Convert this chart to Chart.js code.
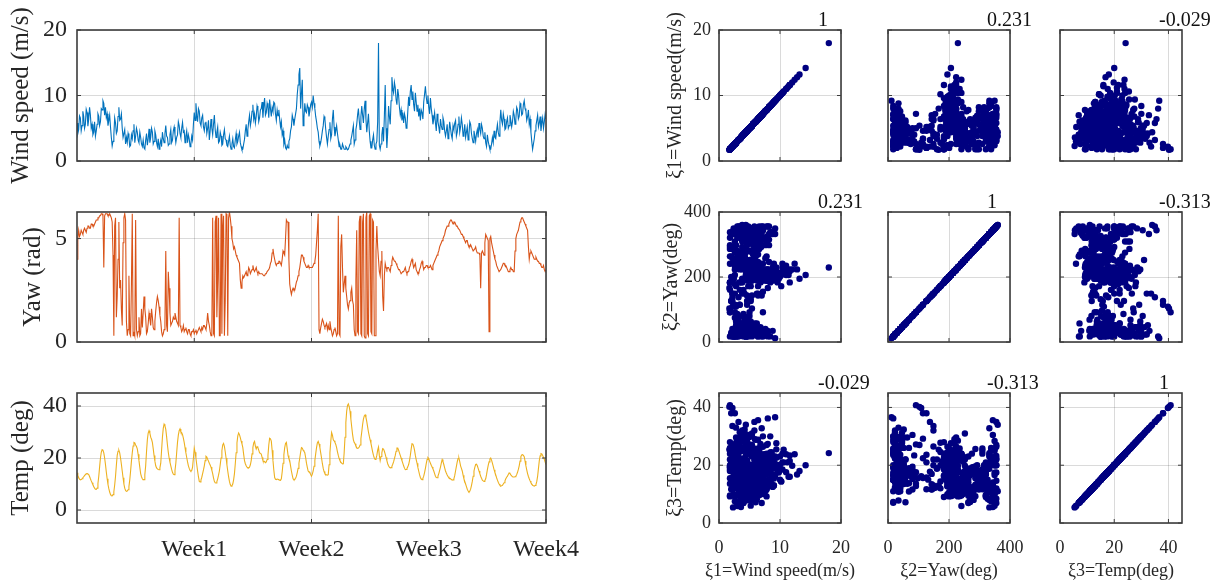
<!DOCTYPE html>
<html>
<head>
<meta charset="utf-8">
<script src="https://cdn.jsdelivr.net/npm/chart.js@4.4.0/dist/chart.umd.min.js"></script>
<style>
  html, body { margin: 0; padding: 0; background: #fff; }
  #page { position: relative; width: 1221px; height: 584px; overflow: hidden; }
  #page canvas { position: absolute; }
</style>
</head>
<body>
<div id="page"></div>
<script>
// Series, 20 samples per day over 4 weeks, one row per day
const windSpeed = [
  5.8, 4.2, 4.8, 6.9, 6.6, 4.6, 5.4, 7.6, 6.8, 5.0, 5.6, 7.9, 7.4, 5.3, 6.4, 8.2, 7.0, 5.0, 5.6, 4.0,
  4.4, 6.0, 3.8, 4.6, 5.6, 7.2, 6.8, 5.4, 6.0, 8.0, 7.8, 9.2, 8.8, 7.0, 8.2, 6.6, 7.2, 5.4, 6.2, 7.0,
  5.2, 3.6, 2.3, 3.0, 4.0, 6.6, 5.8, 4.2, 4.6, 6.8, 8.2, 6.2, 6.4, 7.2, 5.0, 3.6, 3.6, 4.8, 2.6, 3.6,
  2.8, 4.2, 3.6, 2.2, 2.4, 4.0, 3.4, 4.6, 5.6, 2.8, 3.8, 5.0, 4.4, 3.2, 2.8, 4.4, 3.6, 2.6, 2.2, 3.2,
  2.0, 1.8, 3.2, 4.2, 2.4, 3.4, 4.9, 2.8, 3.6, 5.0, 4.4, 2.6, 3.0, 4.6, 4.0, 2.8, 2.2, 3.4, 1.8, 2.6,
  3.2, 2.2, 4.4, 3.4, 2.8, 4.2, 5.4, 3.8, 3.6, 2.4, 2.6, 4.0, 4.8, 2.8, 3.2, 4.6, 5.2, 4.0, 2.8, 3.6,
  4.0, 6.0, 5.4, 4.2, 3.6, 5.0, 5.9, 4.4, 4.6, 2.8, 3.8, 4.6, 2.8, 4.0, 3.4, 2.2, 2.6, 3.8, 3.2, 5.6,
  7.4, 6.2, 8.8, 7.0, 6.0, 8.0, 7.6, 5.8, 5.4, 6.6, 7.0, 5.2, 4.6, 5.8, 6.0, 4.2, 5.0, 6.2, 3.2, 4.6,
  6.4, 5.0, 4.0, 5.6, 7.0, 4.8, 3.6, 4.4, 5.2, 2.8, 3.0, 4.4, 3.8, 2.4, 2.6, 4.0, 4.8, 3.4, 3.2, 2.4,
  2.2, 3.0, 3.8, 2.4, 1.8, 2.6, 3.4, 2.2, 2.0, 3.2, 4.2, 2.6, 3.0, 3.8, 4.4, 2.8, 2.2, 1.7, 1.8, 2.6,
  3.3, 4.6, 5.6, 3.8, 4.8, 6.0, 7.0, 5.4, 6.2, 7.6, 8.6, 6.4, 7.2, 5.8, 6.8, 8.4, 7.8, 6.0, 6.6, 7.8,
  8.0, 9.0, 6.6, 8.4, 9.6, 7.0, 7.4, 8.8, 8.2, 6.6, 9.4, 8.0, 6.8, 8.2, 7.6, 9.0, 8.8, 7.2, 6.2, 7.8,
  6.9, 7.8, 6.4, 5.2, 6.0, 4.0, 4.6, 2.6, 3.2, 2.0, 1.8, 2.4, 2.0, 3.0, 3.4, 4.6, 5.2, 7.0, 6.4, 5.4,
  6.4, 7.2, 8.0, 10.2, 11.6, 13.2, 14.2, 8.0, 10.4, 12.4, 5.4, 6.6, 8.8, 7.6, 7.4, 8.6, 8.2, 6.8, 7.6, 8.6,
  9.0, 8.2, 10.0, 8.8, 8.0, 6.8, 6.0, 5.0, 4.4, 3.0, 2.3, 2.8, 3.6, 4.6, 5.4, 6.8, 6.4, 4.8, 3.6, 2.6,
  3.8, 4.8, 5.9, 3.4, 4.0, 6.4, 7.8, 5.2, 3.8, 4.6, 5.4, 4.2, 3.2, 2.2, 2.4, 1.8, 1.8, 2.6, 2.2, 1.8,
  1.8, 2.2, 2.0, 1.7, 1.8, 2.2, 2.6, 3.2, 3.8, 4.6, 5.4, 2.6, 3.2, 4.8, 5.6, 7.0, 8.0, 6.2, 4.8, 6.8,
  8.4, 7.0, 5.8, 8.0, 9.2, 6.4, 4.4, 5.8, 7.2, 4.6, 3.0, 2.0, 2.0, 3.2, 4.0, 2.4, 1.8, 2.6, 3.0, 6.0,
  18.0, 2.4, 1.8, 2.6, 4.0, 5.2, 3.0, 6.8, 11.6, 5.0, 2.0, 4.4, 8.4, 6.8, 5.6, 9.2, 12.8, 11.0, 10.4, 12.0,
  11.2, 9.4, 8.6, 11.0, 10.0, 8.2, 7.0, 7.8, 6.2, 7.4, 5.8, 7.2, 6.6, 5.0, 5.4, 7.6, 9.8, 8.4, 10.6, 11.6,
  9.4, 10.6, 8.6, 7.6, 10.4, 9.0, 7.6, 8.6, 6.8, 8.0, 6.2, 7.8, 7.4, 6.4, 9.0, 10.2, 11.4, 9.8, 8.8, 10.0,
  8.2, 7.2, 9.6, 8.0, 7.0, 5.6, 6.4, 7.4, 5.8, 4.6, 7.2, 6.0, 5.2, 4.2, 6.4, 5.4, 4.8, 6.6, 6.0, 4.6,
  3.8, 4.6, 5.6, 3.4, 4.2, 6.0, 5.0, 4.0, 3.4, 5.4, 4.8, 5.8, 6.2, 3.8, 4.4, 5.6, 6.8, 4.4, 5.2, 6.6,
  5.6, 3.8, 4.4, 5.6, 3.6, 4.4, 5.2, 3.2, 4.0, 6.0, 5.6, 4.2, 3.4, 2.8, 4.6, 3.8, 3.0, 4.2, 4.8, 3.6,
  5.8, 4.8, 4.2, 5.6, 5.0, 3.8, 3.4, 4.4, 2.8, 2.2, 4.0, 3.0, 2.4, 1.8, 1.8, 2.6, 3.6, 2.8, 4.6, 3.6,
  3.4, 4.6, 5.6, 4.4, 3.8, 6.0, 7.8, 6.2, 5.6, 7.2, 6.4, 4.8, 5.0, 6.0, 6.6, 5.0, 5.4, 7.0, 6.2, 5.2,
  6.0, 7.6, 7.0, 5.6, 6.4, 8.2, 7.8, 6.4, 6.8, 8.8, 8.4, 7.0, 7.2, 8.6, 9.2, 8.0, 7.6, 6.2, 6.8, 7.8,
  5.6, 6.4, 4.4, 3.0, 1.8, 2.6, 3.4, 4.6, 5.4, 6.2, 7.0, 5.2, 5.8, 6.8, 4.6, 5.8, 6.6, 5.0, 6.0, 7.2,
  6.4
];

const yawRad = [
  4.0, 5.0, 5.4, 5.1, 5.2, 5.4, 5.3, 5.2, 5.4, 5.5, 5.4, 5.3, 5.5, 5.6, 5.6, 5.5, 5.5, 5.7, 5.7, 5.6,
  5.6, 5.7, 5.8, 5.9, 5.9, 6.0, 6.0, 6.1, 6.1, 6.2, 6.2, 6.1, 3.6, 6.1, 6.2, 6.2, 6.2, 6.1, 6.1, 6.2,
  6.1, 6.0, 5.8, 4.2, 0.3, 5.6, 6.0, 1.2, 2.2, 4.0, 5.8, 2.6, 3.0, 1.6, 0.8, 4.8, 6.0, 6.2, 5.9, 1.0,
  0.3, 0.6, 3.2, 0.4, 0.3, 2.8, 6.2, 0.3, 0.5, 0.3, 5.9, 0.6, 0.3, 0.5, 1.2, 0.3, 0.4, 1.6, 0.7, 1.4,
  2.2, 1.6, 1.2, 0.4, 0.5, 0.9, 1.4, 1.1, 0.8, 1.6, 1.2, 0.7, 0.6, 1.0, 1.5, 1.9, 2.2, 2.0, 1.7, 1.3,
  1.0, 0.5, 0.3, 0.4, 0.6, 0.9, 4.4, 0.8, 0.5, 3.4, 2.6, 1.4, 0.8, 0.9, 1.0, 1.2, 1.1, 1.4, 1.2, 1.0,
  0.9, 0.8, 6.0, 0.8, 0.7, 0.5, 0.6, 0.8, 0.5, 0.6, 0.7, 0.5, 0.4, 0.6, 0.6, 0.4, 0.3, 0.5, 0.5, 0.6,
  0.4, 0.5, 0.6, 0.4, 0.5, 0.6, 0.7, 0.6, 0.5, 0.7, 0.6, 0.8, 0.8, 0.7, 0.6, 0.9, 1.4, 1.0, 0.8, 0.5,
  0.3, 0.4, 6.0, 0.4, 0.3, 5.8, 6.1, 1.2, 3.0, 6.0, 0.3, 0.3, 6.2, 0.4, 5.4, 6.1, 0.3, 2.0, 6.2, 6.1,
  0.3, 6.0, 6.28, 6.0, 5.6, 5.0, 4.8, 4.5, 4.6, 4.4, 4.2, 4.1, 4.0, 3.9, 3.8, 3.0, 2.6, 2.9, 3.2, 3.1,
  3.2, 3.3, 3.4, 3.2, 3.3, 3.6, 3.5, 3.3, 3.4, 3.5, 3.7, 3.5, 3.4, 3.5, 3.6, 3.4, 3.3, 3.4, 3.3, 3.3,
  3.3, 3.3, 3.3, 3.2, 3.2, 3.3, 3.3, 3.4, 3.4, 3.5, 3.6, 3.8, 3.9, 4.3, 4.5, 4.2, 4.0, 3.8, 3.7, 3.8,
  3.8, 3.9, 3.9, 3.8, 3.7, 4.0, 4.4, 4.3, 4.2, 5.0, 5.9, 5.8, 5.8, 4.0, 2.8, 2.5, 2.3, 2.5, 2.6, 2.5,
  2.5, 2.7, 2.9, 3.0, 3.2, 3.4, 3.6, 3.9, 4.2, 4.2, 4.1, 3.9, 3.8, 3.7, 3.6, 3.6, 3.7, 3.6, 3.6, 3.6,
  3.6, 3.6, 3.7, 3.8, 3.9, 4.2, 4.8, 5.4, 6.2, 0.6, 0.4, 0.7, 0.9, 1.1, 1.0, 0.8, 0.7, 0.8, 0.9, 0.6,
  0.8, 0.6, 1.0, 0.7, 0.5, 0.3, 0.4, 0.6, 0.7, 0.5, 0.3, 0.4, 6.1, 0.4, 0.3, 4.6, 5.2, 3.6, 2.4, 2.8,
  3.2, 2.6, 2.2, 1.8, 1.6, 1.9, 2.0, 2.4, 2.6, 2.0, 1.8, 0.6, 0.3, 3.0, 5.4, 0.5, 0.4, 5.8, 6.1, 0.4,
  0.3, 5.8, 6.2, 0.3, 0.2, 6.0, 6.28, 0.4, 0.3, 6.1, 6.2, 0.5, 0.4, 5.9, 5.8, 0.3, 0.3, 4.4, 5.6, 4.6,
  4.0, 3.4, 3.2, 3.9, 4.4, 2.2, 1.5, 3.2, 3.8, 3.6, 3.5, 3.6, 3.6, 3.5, 3.4, 3.7, 3.9, 4.1, 4.0, 3.9,
  3.9, 3.8, 3.7, 3.6, 3.5, 3.5, 3.4, 3.3, 3.3, 3.4, 3.4, 3.5, 3.6, 3.4, 3.3, 3.4, 3.4, 3.6, 3.7, 3.9,
  4.0, 3.8, 3.6, 3.7, 3.8, 3.5, 3.4, 3.3, 3.3, 3.5, 3.6, 3.8, 3.9, 3.7, 3.5, 3.6, 3.6, 3.7, 3.7, 3.6,
  3.6, 3.6, 3.7, 3.6, 3.5, 3.7, 3.8, 3.9, 4.0, 4.1, 4.2, 4.3, 4.4, 4.6, 4.7, 4.8, 4.9, 5.0, 5.1, 5.2,
  5.4, 5.5, 5.6, 5.6, 5.7, 5.8, 5.9, 5.9, 5.8, 5.7, 5.8, 5.8, 5.7, 5.6, 5.6, 5.5, 5.5, 5.4, 5.3, 5.2,
  5.2, 5.1, 5.0, 4.9, 4.8, 4.9, 4.9, 4.7, 4.6, 4.6, 4.7, 4.6, 4.5, 4.4, 4.4, 4.5, 4.6, 4.4, 4.3, 4.3,
  4.3, 4.2, 2.6, 4.3, 4.4, 4.3, 4.2, 4.8, 5.2, 5.1, 5.0, 4.9, 0.5, 5.0, 5.1, 4.8, 4.6, 4.4, 4.2, 4.0,
  3.9, 3.7, 3.6, 3.5, 3.4, 3.4, 3.5, 3.6, 3.7, 3.8, 3.8, 3.7, 3.7, 3.6, 3.5, 3.4, 3.4, 3.5, 3.6, 3.5,
  3.5, 3.4, 3.4, 4.4, 5.0, 5.2, 5.3, 5.4, 5.6, 5.8, 5.9, 6.0, 6.0, 5.9, 5.8, 5.7, 5.6, 5.5, 5.4, 4.6,
  4.0, 4.3, 4.4, 4.3, 4.2, 4.1, 4.0, 4.0, 4.1, 4.0, 3.9, 3.9, 3.8, 3.8, 3.7, 3.6, 3.6, 3.7, 3.5, 3.4,
  3.5
];

const temperature = [
  14.3, 13.3, 12.5, 11.9, 11.6, 11.7, 12.0, 12.4, 12.8, 13.2, 13.6, 13.9, 14.0, 13.9, 13.6, 12.9, 12.0, 11.2, 10.5, 9.7,
  9.0, 8.4, 8.0, 7.9, 8.4, 10.2, 13.0, 16.6, 20.0, 22.2, 23.2, 23.0, 22.0, 20.0, 17.5, 14.6, 12.0, 9.8, 8.2, 6.9,
  6.0, 5.5, 5.4, 5.9, 7.0, 9.6, 13.0, 17.2, 21.0, 22.6, 23.0, 22.0, 20.0, 17.6, 15.0, 12.4, 10.0, 8.4, 7.5, 7.2,
  7.3, 7.8, 9.0, 11.6, 15.0, 18.8, 22.0, 24.6, 26.0, 25.8, 25.0, 24.4, 23.5, 21.4, 19.0, 16.4, 14.0, 12.8, 12.0, 11.6,
  11.7, 13.6, 17.0, 22.4, 27.0, 29.6, 30.5, 29.6, 28.0, 27.2, 26.0, 23.6, 21.0, 18.8, 17.0, 16.2, 15.8, 15.6, 15.5, 16.2,
  18.0, 23.0, 28.0, 31.4, 33.0, 32.4, 31.0, 28.2, 25.0, 22.2, 20.0, 18.4, 17.0, 15.6, 14.5, 13.8, 13.6, 15.2, 18.0, 22.0,
  26.0, 28.8, 30.5, 31.2, 30.0, 29.8, 29.0, 27.6, 26.0, 24.0, 22.0, 20.2, 18.5, 17.0, 16.0, 15.2, 14.9, 15.2, 16.5, 20.0,
  23.8, 22.2, 20.0, 17.4, 15.0, 12.8, 11.0, 10.8, 11.5, 12.6, 14.0, 15.4, 17.0, 19.0, 20.7, 20.4, 19.5, 18.8, 18.0, 17.3,
  16.5, 15.3, 14.0, 12.4, 11.0, 10.5, 10.4, 10.9, 12.0, 13.4, 15.0, 17.4, 20.0, 22.8, 25.0, 25.6, 24.5, 22.4, 20.0, 17.4,
  15.0, 12.8, 11.0, 9.8, 9.2, 9.3, 10.0, 11.6, 14.0, 17.8, 22.0, 25.8, 28.5, 29.6, 29.0, 27.8, 26.5, 25.4, 24.0, 21.4,
  19.0, 17.8, 17.0, 16.5, 16.2, 16.2, 16.5, 17.4, 19.0, 21.6, 24.0, 25.8, 26.4, 24.6, 23.5, 24.4, 24.0, 23.0, 22.0, 21.8,
  21.5, 20.2, 19.0, 18.6, 18.7, 18.2, 18.5, 19.4, 21.0, 25.0, 27.6, 27.4, 26.5, 23.0, 19.0, 15.4, 12.5, 11.8, 11.7, 11.9,
  11.8, 11.6, 11.5, 11.4, 12.0, 14.6, 18.0, 21.2, 24.0, 25.6, 26.0, 23.6, 21.0, 19.8, 19.0, 17.0, 15.0, 13.4, 12.0, 11.6,
  11.7, 12.2, 13.0, 14.4, 16.0, 18.0, 20.0, 22.2, 24.0, 23.8, 23.0, 22.6, 22.0, 20.2, 18.0, 16.4, 15.0, 14.6, 14.5, 13.6,
  13.0, 13.8, 15.0, 16.8, 19.0, 21.6, 24.0, 25.8, 26.4, 25.4, 24.0, 22.0, 20.0, 17.8, 16.0, 14.8, 14.0, 13.6, 13.5, 13.4,
  13.6, 17.4, 22.0, 26.4, 29.8, 28.8, 27.0, 26.6, 26.0, 25.2, 24.0, 22.4, 21.0, 19.8, 19.0, 18.4, 18.0, 17.7, 17.8, 22.0,
  28.0, 33.6, 38.0, 40.2, 40.8, 39.8, 38.0, 35.0, 32.0, 29.2, 27.0, 26.0, 25.5, 24.6, 24.0, 23.7, 23.8, 24.2, 25.0, 27.4,
  30.0, 32.8, 35.0, 36.2, 36.6, 35.6, 34.0, 32.0, 30.0, 28.4, 27.0, 25.6, 24.0, 22.4, 21.0, 20.0, 19.4, 19.8, 21.0, 23.0,
  24.2, 21.0, 19.0, 20.6, 22.0, 23.6, 23.4, 22.6, 21.5, 20.2, 19.0, 17.8, 17.0, 16.5, 16.2, 16.3, 16.8, 17.6, 18.5, 19.8,
  21.0, 22.6, 23.8, 23.8, 23.0, 22.0, 21.0, 20.0, 19.0, 18.0, 17.0, 16.1, 15.5, 15.6, 16.0, 16.6, 17.5, 19.0, 21.0, 23.4,
  25.5, 25.4, 24.5, 23.0, 21.0, 19.4, 18.0, 16.4, 15.0, 13.6, 12.5, 11.9, 11.7, 12.2, 13.0, 14.4, 16.0, 17.8, 19.4, 20.2,
  19.8, 18.8, 18.0, 17.2, 16.5, 15.8, 15.0, 14.0, 13.0, 12.5, 12.4, 13.0, 14.0, 15.2, 16.5, 18.0, 19.4, 18.6, 17.5, 16.2,
  15.0, 14.2, 13.5, 12.9, 12.4, 12.2, 12.0, 11.7, 11.5, 11.6, 12.0, 13.2, 15.0, 16.8, 18.5, 19.8, 20.0, 18.6, 17.0, 16.0,
  15.0, 13.4, 12.0, 11.0, 10.0, 9.0, 8.0, 7.3, 6.9, 7.2, 8.0, 9.4, 11.0, 13.0, 15.0, 16.4, 17.5, 17.6, 17.0, 16.0,
  15.0, 14.0, 13.0, 12.2, 11.5, 11.2, 11.0, 11.3, 12.0, 13.6, 15.5, 17.2, 18.5, 19.6, 20.0, 19.2, 18.0, 16.8, 15.5, 14.4,
  13.5, 12.4, 11.5, 10.7, 10.0, 9.5, 9.2, 9.3, 9.5, 10.0, 10.5, 11.2, 12.0, 12.6, 13.0, 13.7, 14.3, 14.0, 13.5, 13.1,
  12.8, 12.7, 12.7, 12.8, 13.0, 13.6, 14.5, 15.6, 17.0, 18.8, 20.5, 21.2, 21.3, 21.0, 20.5, 18.8, 17.0, 15.4, 14.0, 12.9,
  12.0, 11.2, 10.5, 10.0, 9.5, 9.3, 9.2, 9.4, 9.8, 11.0, 13.0, 16.0, 19.0, 20.8, 21.7, 21.6, 21.0, 20.2, 19.5, 18.4,
  17.5
];

// Axis ticks / labels
const sampleCount = 560;
const weekTicks = [140, 280, 420, 560];
const weekLabels = ['Week1', 'Week2', 'Week3', 'Week4'];
const windTicks = [0, 10, 20];
const yawTicks = [0, 5];
const tempTicks = [0, 20, 40];

// Scatter matrix
const varNames = ['\u03BE1=Wind speed(m/s)', '\u03BE2=Yaw(deg)', '\u03BE3=Temp(deg)'];
const varMin = [0, 0, 0];
const varMax = [20, 400, 45];
const varTicks = [[0, 10, 20], [0, 200, 400], [0, 20, 40]];
const corrLabels = [
  ['1', '0.231', '-0.029'],
  ['0.231', '1', '-0.313'],
  ['-0.029', '-0.313', '1']
];

const textColor = '#262626';
const gridColor = 'rgba(38,38,38,0.17)';
const frameColor = '#3c3c3c';
const fontFamily = "'Liberation Serif', 'Times New Roman', serif";

Chart.defaults.font.family = fontFamily;
Chart.defaults.color = textColor;
Chart.defaults.animation = false;
Chart.defaults.events = [];
Chart.defaults.plugins.legend.display = false;
Chart.defaults.plugins.tooltip.enabled = false;

// box around the plot area + inward tick marks + correlation text + x label
const framePlugin = {
  id: 'frame',
  afterDraw(chart, args, opts) {
    const { ctx, chartArea: a } = chart;
    const xs = chart.scales.x, ys = chart.scales.y;
    const tl = 4;
    ctx.save();
    ctx.strokeStyle = frameColor;
    ctx.lineWidth = 1;
    ctx.beginPath();
    xs.ticks.forEach(t => {
      const p = xs.getPixelForValue(t.value);
      ctx.moveTo(p, a.bottom); ctx.lineTo(p, a.bottom - tl);
      ctx.moveTo(p, a.top); ctx.lineTo(p, a.top + tl);
    });
    ys.ticks.forEach(t => {
      const p = ys.getPixelForValue(t.value);
      ctx.moveTo(a.left, p); ctx.lineTo(a.left + tl, p);
      ctx.moveTo(a.right, p); ctx.lineTo(a.right - tl, p);
    });
    ctx.stroke();
    ctx.lineWidth = 1.6;
    ctx.strokeRect(a.left, a.top, a.right - a.left, a.bottom - a.top);
    if (opts.label) {
      ctx.font = '20px ' + fontFamily;
      ctx.fillStyle = '#111';
      ctx.textAlign = 'left';
      ctx.textBaseline = 'alphabetic';
      ctx.fillText(opts.label, a.right - 23, a.top - 4);
    }
    if (opts.xTitle) {
      ctx.font = '18px ' + fontFamily;
      ctx.fillStyle = textColor;
      ctx.textAlign = 'center';
      ctx.textBaseline = 'middle';
      ctx.fillText(opts.xTitle, (a.left + a.right) / 2, a.bottom + 48);
    }
    ctx.restore();
  }
};
Chart.register(framePlugin);

function axis(min, max, ticks, o) {
  return {
    type: 'linear',
    min: min,
    max: max,
    afterBuildTicks: s => { s.ticks = ticks.map(v => ({ value: v })); },
    grid: { color: gridColor, lineWidth: 1, drawTicks: false },
    border: { display: false },
    ticks: {
      display: o.show,
      autoSkip: false,
      maxRotation: 0,
      padding: o.pad,
      color: textColor,
      font: { size: o.size },
      callback: o.cb || (v => String(v))
    },
    title: o.title ? {
      display: true,
      text: o.title,
      color: textColor,
      font: { size: o.titleSize },
      padding: o.titlePad
    } : { display: false }
  };
}

function panel(box, pad, config) {
  const c = document.createElement('canvas');
  const w = box.w + pad.l + pad.r;
  const h = box.h + pad.t + pad.b;
  c.width = w; c.height = h;
  c.style.left = (box.x - pad.l) + 'px';
  c.style.top = (box.y - pad.t) + 'px';
  c.style.width = w + 'px';
  c.style.height = h + 'px';
  document.getElementById('page').appendChild(c);
  config.options.responsive = false;
  config.options.devicePixelRatio = 1;
  config.options.layout = { padding: { top: pad.t, right: pad.r, left: 0, bottom: 0 } };
  config.options.scales.x.afterFit = s => { s.height = pad.b; };
  config.options.scales.y.afterFit = s => { s.width = pad.l; };
  return new Chart(c, config);
}

// ---- left column: time series ----
const rowTop = [30, 212, 393];
const rowH = [131, 130, 130];

const seriesDefs = [
  { data: windSpeed, color: '#0072BD', min: 0, max: 20, ticks: windTicks, title: 'Wind speed (m/s)', titlePad: 6 },
  { data: yawRad, color: '#D95319', min: 0, max: 2 * Math.PI, ticks: yawTicks, title: 'Yaw (rad)', titlePad: 18 },
  { data: temperature, color: '#EDB120', min: -5, max: 45, ticks: tempTicks, title: 'Temp (deg)', titlePad: 6 }
];

seriesDefs.forEach((s, r) => {
  const last = r === 2;
  panel(
    { x: 77, y: rowTop[r], w: 469, h: rowH[r] },
    { l: 77, r: 50, t: 25, b: last ? 61 : 25 },
    {
      type: 'line',
      data: {
        datasets: [{
          data: s.data.map((v, i) => ({ x: i, y: v })),
          borderColor: s.color,
          borderWidth: 1.1,
          pointRadius: 0,
          tension: 0
        }]
      },
      options: {
        plugins: { frame: {} },
        scales: {
          x: axis(0, sampleCount, weekTicks, {
            show: last, pad: 12, size: 24,
            cb: v => weekLabels[weekTicks.indexOf(v)] || ''
          }),
          y: axis(s.min, s.max, s.ticks, {
            show: true, pad: 10, size: 24,
            title: s.title, titleSize: 25, titlePad: { top: s.titlePad, bottom: 0 }
          })
        }
      }
    }
  );
});

// ---- right: scatter matrix ----
const colLeft = [719, 888, 1060];
const yawDeg = yawRad.map(v => v * 180 / Math.PI);
const matrixSeries = [windSpeed, yawDeg, temperature];
const yTitlePad = [14, 10, 14];

for (let r = 0; r < 3; r++) {
  for (let c = 0; c < 3; c++) {
    const xs = matrixSeries[c], ys = matrixSeries[r];
    panel(
      { x: colLeft[c], y: rowTop[r], w: 122, h: rowH[r] },
      { l: c === 0 ? 69 : 30, r: 35, t: r === 0 ? 30 : 28, b: r === 2 ? 60 : 20 },
      {
        type: 'scatter',
        data: {
          datasets: [{
            data: xs.map((v, i) => ({ x: v, y: ys[i] })),
            backgroundColor: '#000080',
            borderWidth: 0,
            pointRadius: 3.2
          }]
        },
        options: {
          plugins: { frame: { label: corrLabels[r][c], xTitle: r === 2 ? varNames[c] : null } },
          scales: {
            x: axis(varMin[c], varMax[c], varTicks[c], {
              show: r === 2, pad: 14, size: 18
            }),
            y: axis(varMin[r], varMax[r], varTicks[r], {
              show: c === 0, pad: 8, size: 18,
              title: c === 0 ? varNames[r] : null, titleSize: 20,
              titlePad: { top: yTitlePad[r], bottom: 0 }
            })
          }
        }
      }
    );
  }
}
</script>
</body>
</html>
